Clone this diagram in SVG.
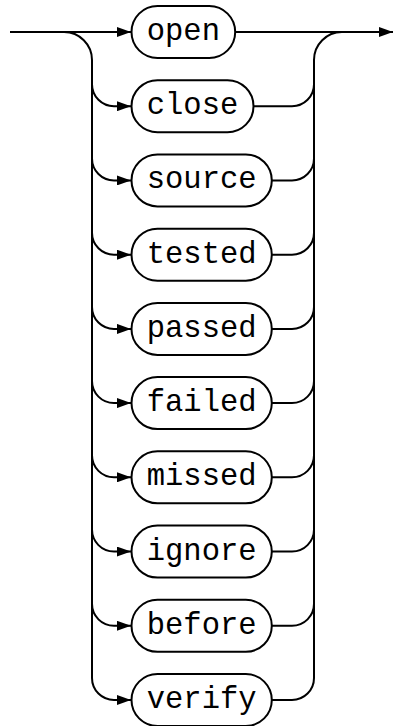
<svg xmlns="http://www.w3.org/2000/svg" width="394" height="726" viewBox="0 0 394 726">
<style>
.c{fill:none;stroke:#000;stroke-width:2}
.b{fill:#fff;stroke:#000;stroke-width:2}
.t{font-family:"Liberation Mono","Courier New",monospace;font-size:30.5px;fill:#000;text-anchor:middle}
</style>
<defs>
<marker id="arr" viewBox="0 0 14 10" refX="14" refY="5" markerWidth="14" markerHeight="10" markerUnits="userSpaceOnUse" orient="auto"><path d="M0,0 L14,5 L0,10 z" fill="#000"/></marker>
</defs>
<g id="connectors">
<path class="c" d="M10,32 H131" marker-end="url(#arr)"/>
<path class="c" d="M235.2,32 H393" marker-end="url(#arr)"/>
<path class="c" d="M64,32 A28,28 0 0 1 92,60 V678"/>
<path class="c" d="M314,678 V60 A28,28 0 0 1 342,32"/>
<path class="c" d="M92,84.2 A22,22 0 0 0 114,106.2 H131" marker-end="url(#arr)"/>
<path class="c" d="M92,158.4 A22,22 0 0 0 114,180.4 H131" marker-end="url(#arr)"/>
<path class="c" d="M92,232.7 A22,22 0 0 0 114,254.7 H131" marker-end="url(#arr)"/>
<path class="c" d="M92,306.9 A22,22 0 0 0 114,328.9 H131" marker-end="url(#arr)"/>
<path class="c" d="M92,381.1 A22,22 0 0 0 114,403.1 H131" marker-end="url(#arr)"/>
<path class="c" d="M92,455.3 A22,22 0 0 0 114,477.3 H131" marker-end="url(#arr)"/>
<path class="c" d="M92,529.6 A22,22 0 0 0 114,551.6 H131" marker-end="url(#arr)"/>
<path class="c" d="M92,603.8 A22,22 0 0 0 114,625.8 H131" marker-end="url(#arr)"/>
<path class="c" d="M92,678 A22,22 0 0 0 114,700 H131" marker-end="url(#arr)"/>
<path class="c" d="M253.5,106.2 H292 A22,22 0 0 0 314,84.2"/>
<path class="c" d="M271.8,180.4 H292 A22,22 0 0 0 314,158.4"/>
<path class="c" d="M271.8,254.7 H292 A22,22 0 0 0 314,232.7"/>
<path class="c" d="M271.8,328.9 H292 A22,22 0 0 0 314,306.9"/>
<path class="c" d="M271.8,403.1 H292 A22,22 0 0 0 314,381.1"/>
<path class="c" d="M271.8,477.3 H292 A22,22 0 0 0 314,455.3"/>
<path class="c" d="M271.8,551.6 H292 A22,22 0 0 0 314,529.6"/>
<path class="c" d="M271.8,625.8 H292 A22,22 0 0 0 314,603.8"/>
<path class="c" d="M271.8,700 H292 A22,22 0 0 0 314,678"/>
</g>
<g id="open"><rect class="b" x="131.5" y="6" width="103.7" height="52" rx="26"/><text class="t" x="183.35" y="40">open</text></g>
<g id="close"><rect class="b" x="131.5" y="80.2" width="122" height="52" rx="26"/><text class="t" x="192.5" y="114.2">close</text></g>
<g id="source"><rect class="b" x="131.5" y="154.4" width="140.3" height="52" rx="26"/><text class="t" x="201.65" y="188.4">source</text></g>
<g id="tested"><rect class="b" x="131.5" y="228.7" width="140.3" height="52" rx="26"/><text class="t" x="201.65" y="262.7">tested</text></g>
<g id="passed"><rect class="b" x="131.5" y="302.9" width="140.3" height="52" rx="26"/><text class="t" x="201.65" y="336.9">passed</text></g>
<g id="failed"><rect class="b" x="131.5" y="377.1" width="140.3" height="52" rx="26"/><text class="t" x="201.65" y="411.1">failed</text></g>
<g id="missed"><rect class="b" x="131.5" y="451.3" width="140.3" height="52" rx="26"/><text class="t" x="201.65" y="485.3">missed</text></g>
<g id="ignore"><rect class="b" x="131.5" y="525.6" width="140.3" height="52" rx="26"/><text class="t" x="201.65" y="559.6">ignore</text></g>
<g id="before"><rect class="b" x="131.5" y="599.8" width="140.3" height="52" rx="26"/><text class="t" x="201.65" y="633.8">before</text></g>
<g id="verify"><rect class="b" x="131.5" y="674" width="140.3" height="52" rx="26"/><text class="t" x="201.65" y="708">verify</text></g>
</svg>
